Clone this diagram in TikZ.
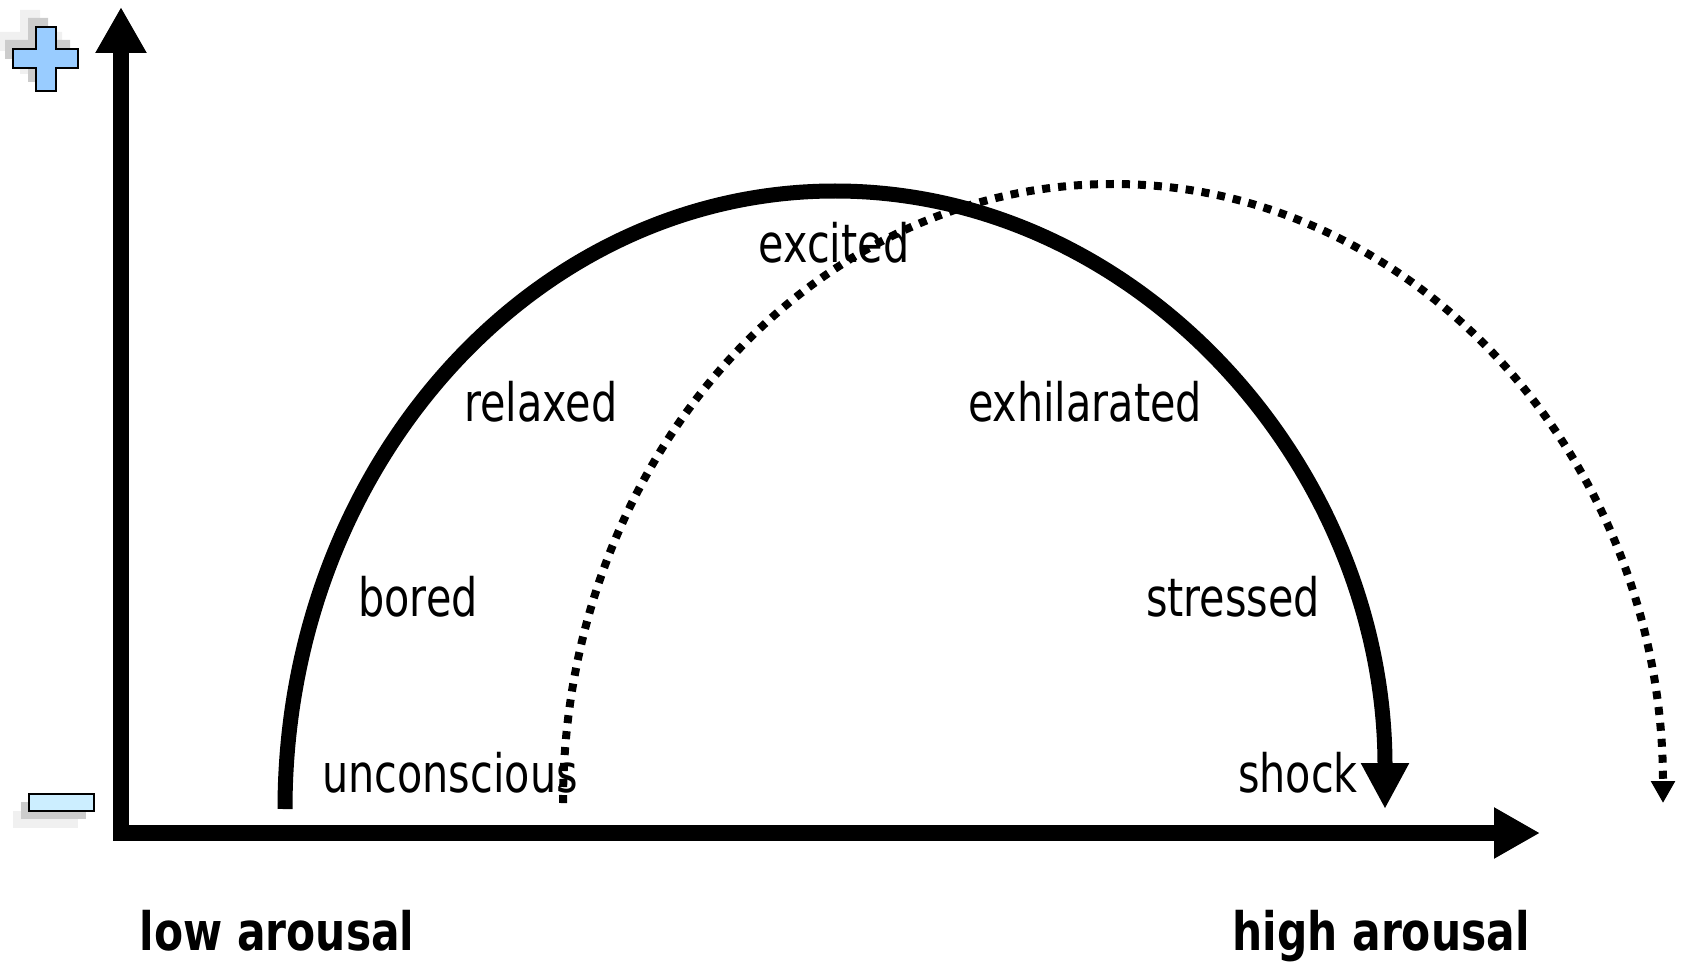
\documentclass[tikz,border=0pt]{standalone}
\usepackage{fontspec}
\setmainfont{DejaVu Sans}[FakeStretch=0.78, BoldFeatures={FakeStretch=0.8}]
\usetikzlibrary{arrows.meta}

\definecolor{plusblue}{HTML}{99CCFF}
\definecolor{minusblue}{HTML}{CCEEFF}

\begin{document}
\begin{tikzpicture}[
    x=0.5pt, y=0.5pt,
    axis/.style={line width=8pt, line join=miter,
        {Triangle[length=23pt, width=24pt]}-{Triangle[length=23pt, width=24pt]}},
    curve/.style={line width=7.5pt, -{Triangle[length=23pt, width=22.5pt]}},
    dotcurve/.style={line width=4pt, dash pattern=on 4pt off 4pt,
        -{Triangle[length=11pt, width=11.5pt]}},
    mood/.style={font=\fontsize{26.5}{30}\selectfont, anchor=base, inner sep=0pt},
    pole/.style={mood, font=\fontsize{26.5}{30}\selectfont\bfseries},
    icon/.style={draw=black, line width=1pt}
]
\useasboundingbox (0,0) rectangle (1681,966);

% Axes
\coordinate (origin) at (121,133);
\coordinate (ytip)   at (121,959);
\coordinate (xtip)   at (1540,133);
\draw[axis] (ytip) -- (origin) -- (xtip);

% Plus icon with its shadow
\foreach \dx/\dy/\shade in {-16/17/gray!12, -8/9/gray!40}{
    \fill[\shade, shift={(\dx,\dy)}] (36,939) -- (56,939) -- (56,917) -- (78,917)
        -- (78,898) -- (56,898) -- (56,875) -- (36,875) -- (36,898) -- (13,898)
        -- (13,917) -- (36,917) -- cycle;
}
\filldraw[icon, fill=plusblue] (36,939) -- (56,939) -- (56,917) -- (78,917)
    -- (78,898) -- (56,898) -- (56,875) -- (36,875) -- (36,898) -- (13,898)
    -- (13,917) -- (36,917) -- cycle;

% Minus icon with its shadow
\foreach \dx/\dy/\shade in {-16/-17/gray!12, -8/-8/gray!40}{
    \fill[\shade, shift={(\dx,\dy)}] (29,155) rectangle (94,172);
}
\filldraw[icon, fill=minusblue] (29,155) rectangle (94,172);

% Moods
\node[mood] (unconscious) at (450,174)  {unconscious};
\node[mood] (bored)       at (418,350)  {bored};
\node[mood] (relaxed)     at (541,545)  {relaxed};
\node[mood] (excited)     at (834,704)  {excited};
\node[mood] (exhilarated) at (1085,545) {exhilarated};
\node[mood] (stressed)    at (1233,350) {stressed};
\node[mood] (shock)       at (1298,174) {shock};

% Axis ends
\node[pole] (low)  at (277,16)  {low arousal};
\node[pole] (high) at (1381,16) {high arousal};

% Arousal curves
\coordinate (solidstart) at (285,157);
\coordinate (dotstart)   at (563,163);
\draw[curve] (solidstart) arc[start angle=180, end angle=0, x radius=550, y radius=618];
\draw[dotcurve] (dotstart) arc[start angle=180, end angle=0, x radius=550, y radius=619];

\end{tikzpicture}
\end{document}
